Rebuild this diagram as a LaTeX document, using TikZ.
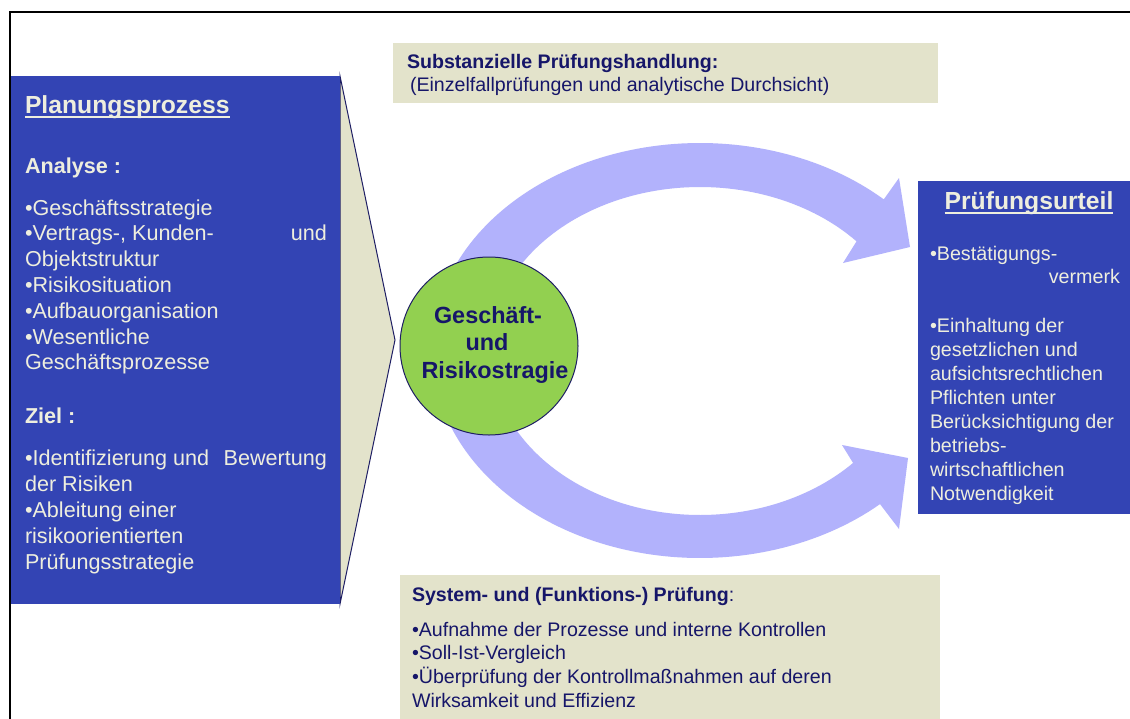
\documentclass[tikz,border=0pt]{standalone}
\usepackage{fontspec}
\setmainfont{Liberation Sans}
\usetikzlibrary{shapes.geometric}
\definecolor{boxblue}{RGB}{51,68,180}
\definecolor{cream}{RGB}{238,238,222}
\definecolor{beige}{RGB}{227,227,203}
\definecolor{navytext}{RGB}{22,22,105}
\definecolor{navyline}{RGB}{30,30,100}
\definecolor{leafgreen}{RGB}{146,208,80}
\definecolor{arrowc}{RGB}{178,178,252}
\newcommand\myhead{\fontsize{24.7}{28}\selectfont\bfseries}
\newcommand\myleft{\fontsize{21.6}{26}\selectfont}
\newcommand\myright{\fontsize{19.7}{24}\selectfont}
\newcommand\mytop{\fontsize{19.6}{24}\selectfont}
\newcommand\mycirc{\fontsize{23.4}{27.5}\selectfont\bfseries}
\begin{document}
\begin{tikzpicture}[x=1pt,y=-1pt,
  txt/.style={inner sep=0pt, outer sep=0pt, anchor=base west},
  ltxt/.style={txt, text=cream, font=\myleft},
  rtxt/.style={txt, text=cream, font=\myright},
  btxt/.style={txt, text=navytext, font=\mytop},
  ctxt/.style={inner sep=0pt, outer sep=0pt, anchor=base, text=navytext, font=\mycirc},
  bluebox/.style={fill=boxblue, draw=none, rectangle, inner sep=0pt, anchor=north west},
  beigebox/.style={fill=beige, draw=none, rectangle, inner sep=0pt, anchor=north west},
  bigarrow/.style={fill=arrowc, draw=none}]
\useasboundingbox (0,0) rectangle (1130,718);
\fill[white] (0,0) rectangle (1130,718);
% frame
\draw[line width=2pt, line cap=rect] (10,720) -- (10,12) -- (1132,12);
% wedge
\filldraw[fill=beige, draw=navyline, line width=1pt] (340,76) -- (395,340) -- (340,604) -- cycle;
% left box
\node[bluebox, minimum width=329, minimum height=528] (plan) at (11,76) {};
% arrows
\fill[bigarrow] plot[domain=-175:-46.7, samples=80] ({700+268*cos(\x)},{350+207*sin(\x)})
  -- (899,178) -- (910,247) -- (843,263)
  -- plot[domain=-41.8:-175, samples=80] ({700+210*cos(\x)},{350+163*sin(\x)}) -- cycle;
\fill[bigarrow] plot[domain=175:47.8, samples=80] ({700+268*cos(\x)},{350+208*sin(\x)})
  -- (899,529) -- (908,458) -- (842,445)
  -- plot[domain=43.2:175, samples=80] ({700+210*cos(\x)},{350+165*sin(\x)}) -- cycle;
% circle
\node[circle, fill=leafgreen, draw=navyline, line width=1pt, minimum size=178, inner sep=0pt] (core) at (489,346) {};
\node[ctxt] (c1) at (488,323) {Geschäft-};
\node[ctxt] (c2) at (487,350) {und};
\node[ctxt] (c3) at (495,378) {Risikostragie};
% right box
\node[bluebox, minimum width=215, minimum height=333] (urteil) at (918,181) {};
% top and bottom boxes
\node[beigebox, minimum width=545, minimum height=60] (subst) at (393,43) {};
\node[beigebox, minimum width=540, minimum height=150] (sys) at (400,575) {};

% left text
\node[txt, text=cream, font=\myhead] (h1) at (25,113) {Planungsprozess};
\draw[cream, line width=1.8pt] ([yshift=-4pt]h1.base west) -- ([yshift=-4pt]h1.base east);
\node[txt, text=cream, font=\myleft\bfseries] (an) at (25,173) {Analyse :};
\node[ltxt] (l1) at (25,215) {•Geschäftsstrategie};
\node[ltxt] (l2) at (25,240.8) {\makebox[302pt][l]{•Vertrags-, Kunden-\hfill und}};
\node[ltxt] (l3) at (25,266.6) {Objektstruktur};
\node[ltxt] (l4) at (25,292.4) {•Risikosituation};
\node[ltxt] (l5) at (25,318.2) {•Aufbauorganisation};
\node[ltxt] (l6) at (25,344) {•Wesentliche};
\node[ltxt] (l7) at (25,369.8) {Geschäftsprozesse};
\node[txt, text=cream, font=\myleft\bfseries] (zi) at (25,423) {Ziel :};
\node[ltxt] (z1) at (25,465) {\makebox[302pt][l]{•Identifizierung und\hfill Bewertung}};
\node[ltxt] (z2) at (25,491) {der Risiken};
\node[ltxt] (z3) at (25,517) {•Ableitung einer};
\node[ltxt] (z4) at (25,543) {risikoorientierten};
\node[ltxt] (z5) at (25,569) {Prüfungsstrategie};

% right text
\node[txt, anchor=base, text=cream, font=\myhead] (h2) at (1029,209) {Prüfungsurteil};
\draw[cream, line width=1.8pt] ([yshift=-4pt]h2.base west) -- ([yshift=-4pt]h2.base east);
\node[rtxt] (r1) at (930,260) {•Bestätigungs-};
\node[rtxt, anchor=base east] (r2) at (1120,283) {vermerk};
\node[rtxt] (r3) at (930,332) {•Einhaltung der};
\node[rtxt] (r4) at (930,356) {gesetzlichen und};
\node[rtxt] (r5) at (930,380) {aufsichtsrechtlichen};
\node[rtxt] (r6) at (930,404) {Pflichten unter};
\node[rtxt] (r7) at (930,428) {Berücksichtigung der};
\node[rtxt] (r8) at (930,452) {betriebs-};
\node[rtxt] (r9) at (930,476) {wirtschaftlichen};
\node[rtxt] (r10) at (930,500) {Notwendigkeit};

% top box text
\node[btxt, font=\mytop\bfseries] (t1) at (407,68) {Substanzielle Prüfungshandlung:};
\node[btxt] (t2) at (410,91) {(Einzelfallprüfungen und analytische Durchsicht)};

% bottom box text
\node[btxt] (s0) at (412,601) {\textbf{System- und (Funktions-) Prüfung}:};
\node[btxt] (s1) at (412,636) {•Aufnahme der Prozesse und interne Kontrollen};
\node[btxt] (s2) at (412,659.7) {•Soll-Ist-Vergleich};
\node[btxt] (s3) at (412,683.4) {•Überprüfung der Kontrollmaßnahmen auf deren};
\node[btxt] (s4) at (412,707) {Wirksamkeit und Effizienz};
\end{tikzpicture}
\end{document}
